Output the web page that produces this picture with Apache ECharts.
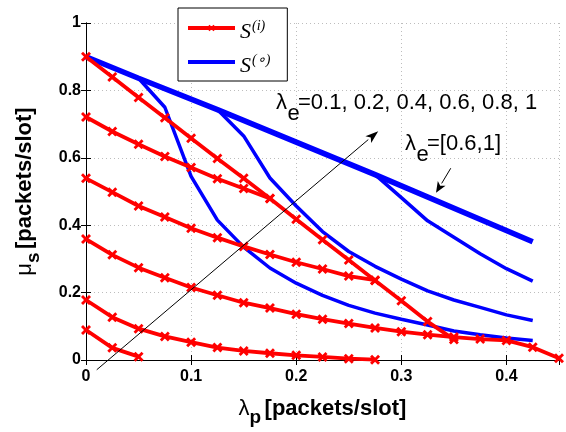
<!DOCTYPE html>
<html>
<head>
<meta charset="utf-8">
<script src="https://cdn.jsdelivr.net/npm/echarts@6/dist/echarts.min.js"></script>
<style>
html, body { margin: 0; padding: 0; background: #fff; }
#main { width: 566px; height: 432px; }
</style>
</head>
<body>
<div id="main"></div>
<script>
// lambda_p grid used by the red curves
const lambdaP = [0, 0.025, 0.05, 0.075, 0.1, 0.125, 0.15, 0.175, 0.2, 0.225,
    0.25, 0.275, 0.3, 0.325, 0.35, 0.375, 0.4, 0.425, 0.45];

// S(i) curves, one per lambda_e (values start at lambdaP[0])
const si_le1  = [0.9, 0.84, 0.779, 0.719, 0.658, 0.598, 0.539, 0.479, 0.418, 0.357, 0.297, 0.236, 0.176, 0.114, 0.061];
const si_le08 = [0.721, 0.678, 0.64, 0.604, 0.571, 0.538, 0.509, 0.479];
const si_le06 = [0.539, 0.498, 0.457, 0.424, 0.391, 0.363, 0.337, 0.313, 0.29, 0.27, 0.249, 0.237];
const si_le04 = [0.359, 0.312, 0.274, 0.244, 0.215, 0.192, 0.17, 0.154, 0.136, 0.121, 0.108, 0.095, 0.084, 0.075, 0.068, 0.062, 0.058, 0.038, 0.005];
const si_le02 = [0.178, 0.127, 0.093, 0.07, 0.053, 0.037, 0.027, 0.02, 0.014, 0.009, 0.004, 0.001];
const si_le01 = [0.089, 0.036, 0.01];

// S(o) curves (x, y)
const so_x_le01 = [0, 0.05, 0.075, 0.1, 0.125, 0.15, 0.175, 0.2, 0.225, 0.25, 0.275, 0.3, 0.325, 0.35, 0.375, 0.4, 0.425];
const so_le01   = [0.9, 0.836, 0.75, 0.545, 0.415, 0.335, 0.273, 0.228, 0.192, 0.162, 0.139, 0.121, 0.104, 0.086, 0.075, 0.065, 0.058];
const so_x_le02 = [0, 0.05, 0.125, 0.15, 0.175, 0.2, 0.225, 0.25, 0.275, 0.3, 0.325, 0.35, 0.375, 0.4, 0.425];
const so_le02   = [0.9, 0.836, 0.743, 0.665, 0.54, 0.457, 0.381, 0.322, 0.278, 0.24, 0.205, 0.178, 0.156, 0.134, 0.117];
const so_x_le04 = [0, 0.05, 0.125, 0.275, 0.3, 0.325, 0.35, 0.375, 0.4, 0.425];
const so_le04   = [0.9, 0.836, 0.743, 0.55, 0.482, 0.413, 0.364, 0.315, 0.271, 0.234];
const so_x_le6to1 = [0, 0.05, 0.125, 0.275, 0.425];
const so_le6to1   = [0.9, 0.836, 0.743, 0.55, 0.351];

// annotation arrows in data coords [from, to]
const arrowBig = [[0.0102, -0.029], [0.278, 0.679]];
const arrowSmall = [[0.347, 0.569], [0.333, 0.496]];

const xTicks = { min: 0, max: 0.45, interval: 0.1 };
const yTicks = { min: 0, max: 1, interval: 0.2 };

const pairs = (xs, ys) => ys.map((y, i) => [xs[i], y]);
const xMark = 'path://M0,2L2,0L5,3L8,0L10,2L7,5L10,8L8,10L5,7L2,10L0,8L3,5Z';

function redLine(vals) {
    return {
        name: 'si', type: 'line', data: pairs(lambdaP, vals),
        symbol: xMark, symbolSize: 10, showAllSymbol: true,
        lineStyle: { color: '#ff0000', width: 3.8 },
        itemStyle: { color: '#ff0000' },
        z: 4, animation: false
    };
}
function blueLine(xs, vals, w) {
    return {
        name: 'so', type: 'line', data: pairs(xs, vals),
        symbol: 'none',
        lineStyle: { color: '#0000ff', width: w },
        itemStyle: { color: '#0000ff' },
        z: 3, animation: false
    };
}

const nameRich = {
    g: { fontFamily: 'Liberation Sans', fontSize: 22, lineHeight: 36, color: '#000' },
    sub: { fontFamily: 'Liberation Sans', fontSize: 19, fontWeight: 'bold', lineHeight: 19, verticalAlign: 'bottom', color: '#000' },
    b: { fontFamily: 'Liberation Sans', fontSize: 22, fontWeight: 'bold', lineHeight: 36, color: '#000' }
};
const tickFmt = v => String(+v.toFixed(2));
const gridDots = { show: true, lineStyle: { color: '#bdbdbd', type: [1, 3], width: 1 } };
const labelFont = { fontFamily: 'Liberation Sans', fontWeight: 'bold', fontSize: 16, color: '#000' };

const chart = echarts.init(document.getElementById('main'));
chart.setOption({
    backgroundColor: '#fff',
    animation: false,
    grid: { left: 86, right: 7, top: 23, bottom: 68 },
    xAxis: [{
        type: 'value', ...xTicks, position: 'bottom',
        name: '{g|λ}{sub|p} {b|[packets/slot]}', nameLocation: 'middle', nameGap: 31,
        nameTextStyle: { rich: nameRich },
        axisLine: { lineStyle: { color: '#000', width: 1 } },
        axisTick: { inside: true, length: 5, lineStyle: { color: '#000' } },
        axisLabel: { ...labelFont, margin: 9, formatter: tickFmt, showMaxLabel: false },
        splitLine: gridDots
    }, {
        type: 'value', ...xTicks, position: 'top',
        axisLine: { lineStyle: { color: '#000', width: 1 } },
        axisTick: { inside: true, length: 5, lineStyle: { color: '#000' } },
        axisLabel: { show: false }, splitLine: { show: false }
    }],
    yAxis: [{
        type: 'value', ...yTicks, position: 'left',
        name: '{g|μ}{sub|s} {b|[packets/slot]}', nameLocation: 'middle', nameGap: 43,
        nameTextStyle: { rich: nameRich },
        axisLine: { show: true, lineStyle: { color: '#000', width: 1 } },
        axisTick: { show: true, inside: true, length: 5, lineStyle: { color: '#000' } },
        axisLabel: { ...labelFont, margin: 5, formatter: tickFmt },
        splitLine: gridDots
    }, {
        type: 'value', ...yTicks, position: 'right',
        axisLine: { show: true, lineStyle: { color: '#000', width: 1 } },
        axisTick: { show: true, inside: true, length: 5, lineStyle: { color: '#000' } },
        axisLabel: { show: false }, splitLine: { show: false }
    }],
    legend: {
        data: [
            { name: 'si', lineStyle: { width: 4 } },
            { name: 'so', lineStyle: { width: 4 }, itemStyle: { opacity: 0 } }
        ],
        orient: 'vertical', left: 178, top: 8,
        padding: [5, 17, 4, 8], itemWidth: 47, itemHeight: 8, itemGap: 4,
        backgroundColor: '#fff', borderColor: '#000', borderWidth: 1, borderRadius: 0,
        formatter: n => n === 'si' ? '{s|S}{p|(i)}' : '{s|S}{p|(∘)}',
        textStyle: {
            rich: {
                s: { fontFamily: 'Liberation Serif', fontStyle: 'italic', fontSize: 22, lineHeight: 22, padding: [8, 1, 0, 0], color: '#000' },
                p: { fontFamily: 'Liberation Serif', fontStyle: 'italic', fontSize: 14, lineHeight: 14, padding: [0, 0, 4, 0], color: '#000' }
            }
        }
    },
    series: [
        blueLine(so_x_le01, so_le01, 3.5),
        blueLine(so_x_le02, so_le02, 3.5),
        blueLine(so_x_le04, so_le04, 3.5),
        blueLine(so_x_le6to1, so_le6to1, 5.5),
        redLine(si_le1),
        redLine(si_le08),
        redLine(si_le06),
        redLine(si_le04),
        redLine(si_le02),
        redLine(si_le01)
    ]
});

// arrows and annotation text, placed through the grid's coordinate system
function arrow(seg, headLen, headHalf) {
    const a = chart.convertToPixel({ gridIndex: 0 }, seg[0]);
    const b = chart.convertToPixel({ gridIndex: 0 }, seg[1]);
    const dx = b[0] - a[0], dy = b[1] - a[1];
    const len = Math.sqrt(dx * dx + dy * dy);
    const ux = dx / len, uy = dy / len;
    const bx = b[0] - ux * headLen, by = b[1] - uy * headLen;
    return [{
        type: 'line', silent: true, z: 10,
        shape: { x1: a[0], y1: a[1], x2: bx, y2: by },
        style: { stroke: '#000', lineWidth: 1 }
    }, {
        type: 'polygon', silent: true, z: 10,
        shape: { points: [[b[0], b[1]], [bx - uy * headHalf, by + ux * headHalf], [b[0] - ux * headLen * 0.75, b[1] - uy * headLen * 0.75], [bx + uy * headHalf, by - ux * headHalf]] },
        style: { fill: '#000' }
    }];
}
const annFont = '22px "Liberation Sans"';
function txt(t, x, y) {
    return { type: 'text', x: x, y: y, z: 10, silent: true,
        style: { text: t, font: annFont, fill: '#000', verticalAlign: 'middle' } };
}
chart.setOption({
    graphic: [
        ...arrow(arrowBig, 13, 4.5),
        ...arrow(arrowSmall, 11, 4.5),
        txt('λ', 276, 103), txt('e', 287.5, 114), txt('=0.1, 0.2, 0.4, 0.6, 0.8, 1', 298, 103),
        txt('λ', 405, 143.5), txt('e', 416.5, 155), txt('=[0.6,1]', 427, 143.5)
    ]
});
</script>
</body>
</html>
